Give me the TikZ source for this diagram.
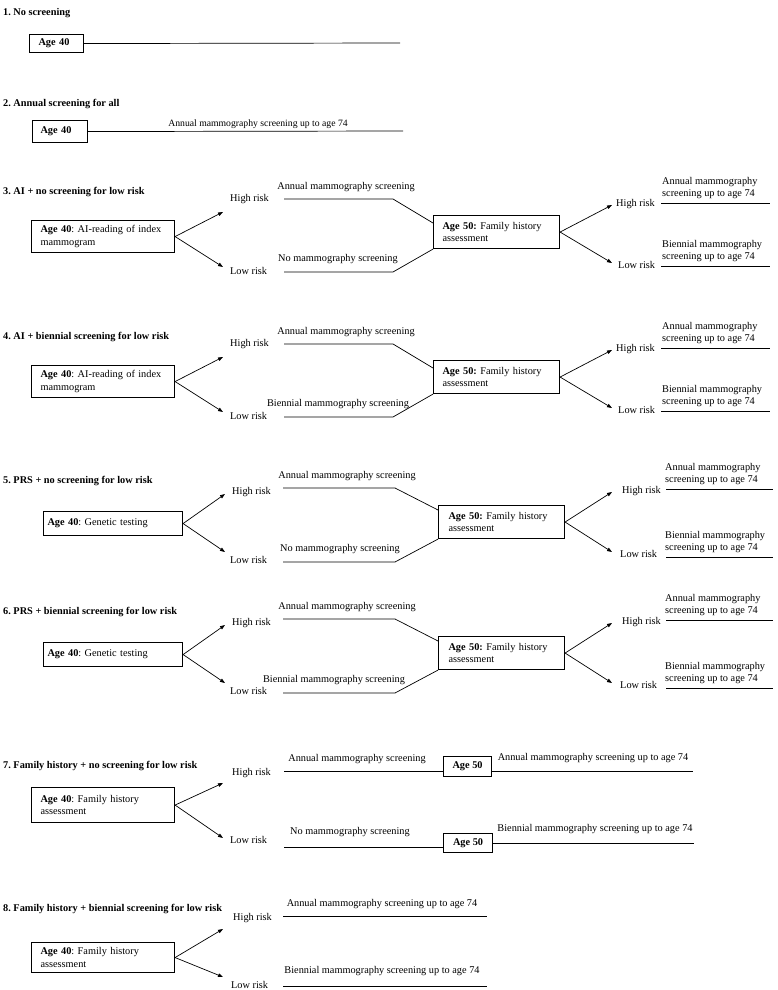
\documentclass[tikz,border=0pt]{standalone}
\usepackage{fontspec}
\setmainfont{Liberation Serif}
\usetikzlibrary{arrows.meta,calc}
\frenchspacing
\tikzset{
  every node/.style={font=\fontsize{10.3}{12.4}\selectfont\frenchspacing, inner sep=0pt},
  ttl/.style={anchor=base west, font=\fontsize{10.3}{12.4}\selectfont\bfseries},
  lbl/.style={anchor=base west},
  clbl/.style={anchor=base},
  twol/.style={anchor=south west, align=left},
  boxn/.style={draw, line width=1.1pt, anchor=north west, align=left, inner ysep=0pt},
  ln/.style={line width=0.7pt},
  arr/.style={line width=0.7pt, -{Triangle[length=5pt,width=3.6pt]}},
}
% sections 3 and 4
\newcommand{\aiblock}[4]{%
\begin{scope}[shift={(0,#1)}]
\node[ttl] (#2t) at (3,194.5) {#3};
\node[boxn, minimum width=143pt, minimum height=32pt, text width=125pt, inner xsep=9pt] (#2a) at (31,220) {\textbf{Age 40}: AI-reading of index\\mammogram};
\coordinate (#2ht) at (223,212);
\coordinate (#2lt) at (223,267);
\draw[arr] (#2a.east) -- (#2ht);
\draw[arr] (#2a.east) -- (#2lt);
\node[lbl] (#2hr) at (230,201.5) {High risk};
\node[lbl] (#2lr) at (230,274.5) {Low risk};
\node[boxn, minimum width=126pt, minimum height=33pt, text width=108pt, inner xsep=9pt] (#2b) at (433,215) {\textbf{Age 50:} Family history\\assessment};
\coordinate (#2h1) at (284,199);
\coordinate (#2h2) at (393,199);
\coordinate (#2l1) at (284,272);
\coordinate (#2l2) at (393,272);
\draw[ln] (#2h1) -- (#2h2) -- ([yshift=-8pt]#2b.north west);
\draw[ln] (#2l1) -- (#2l2) -- (#2b.south west);
\node[clbl] (#2hl) at (346,189.5) {Annual mammography screening};
\node[clbl] (#2ll) at (338,261.5) {#4};
\coordinate (#2rht) at (612,205);
\coordinate (#2rlt) at (612,263);
\draw[arr] (#2b.east) -- (#2rht);
\draw[arr] (#2b.east) -- (#2rlt);
\node[lbl] (#2rhr) at (616,206.5) {High risk};
\node[lbl] (#2rlr) at (618,268.5) {Low risk};
\coordinate (#2rh1) at (661,203);
\coordinate (#2rh2) at (770,203);
\coordinate (#2rl1) at (661,266);
\coordinate (#2rl2) at (770,266);
\draw[ln] (#2rh1) -- (#2rh2);
\draw[ln] (#2rl1) -- (#2rl2);
\node[twol] (#2rhl) at (662,199) {Annual mammography\\screening up to age 74};
\node[twol] (#2rll) at (662,262) {Biennial mammography\\screening up to age 74};
\end{scope}}
% sections 5 and 6
\newcommand{\prsblock}[5]{%
\begin{scope}[shift={(0,#1)}]
\node[ttl] (#2t) at (3,483.5) {#3};
\node[boxn, minimum width=139pt, minimum height=24pt, text width=131pt, inner xsep=4pt] (#2a) at (43,511) {\textbf{Age 40}: Genetic testing};
\coordinate (#2ht) at (225,494);
\coordinate (#2lt) at (225,552);
\draw[arr] (#2a.east) -- (#2ht);
\draw[arr] (#2a.east) -- (#2lt);
\node[lbl] (#2hr) at (232,494.5) {High risk};
\node[lbl] (#2lr) at (230,563.5) {Low risk};
\node[boxn, minimum width=126pt, minimum height=33pt, text width=106pt, inner xsep=10pt] (#2b) at (438,505) {\textbf{Age 50:} Family history\\assessment};
\coordinate (#2h1) at (283,488);
\coordinate (#2h2) at (395,488);
\coordinate (#2l1) at (283,562);
\coordinate (#2l2) at (395,562);
\draw[ln] (#2h1) -- (#2h2) -- ([yshift=-5pt]#2b.north west);
\draw[ln] (#2l1) -- (#2l2) -- (#2b.south west);
\node[clbl] (#2hl) at (347,478.5) {Annual mammography screening};
\node[clbl] (#2ll) at (#5,551) {#4};
\coordinate (#2rht) at (612,492);
\coordinate (#2rlt) at (612,552);
\draw[arr] (#2b.east) -- (#2rht);
\draw[arr] (#2b.east) -- (#2rlt);
\node[lbl] (#2rhr) at (622,493.5) {High risk};
\node[lbl] (#2rlr) at (620,557.5) {Low risk};
\coordinate (#2rh1) at (666,489);
\coordinate (#2rh2) at (773,489);
\coordinate (#2rl1) at (666,557);
\coordinate (#2rl2) at (773,557);
\draw[ln] (#2rh1) -- (#2rh2);
\draw[ln] (#2rl1) -- (#2rl2);
\node[twol] (#2rhl) at (665,485) {Annual mammography\\screening up to age 74};
\node[twol] (#2rll) at (665,553) {Biennial mammography\\screening up to age 74};
\end{scope}}
\begin{document}
\begin{tikzpicture}[x=1pt,y=-1pt]
\useasboundingbox (0,0) rectangle (777,990);
\fill[white] (0,0) rectangle (777,990);

% 1
\node[ttl] (t1) at (3,15.5) {1. No screening};
\node[boxn, minimum width=54pt, minimum height=18pt, text width=36pt, inner xsep=9pt] (b1) at (29,34) {\textbf{Age 40}};
\coordinate (e1) at (400,43);
\draw[ln] (b1.east) -- (e1);

% 2
\node[ttl] (t2) at (3,106.5) {2. Annual screening for all};
\node[boxn, minimum width=55pt, minimum height=22pt, text width=39pt, inner xsep=8pt] (b2) at (32,120) {\textbf{Age 40}};
\coordinate (e2) at (403,131);
\draw[ln] (b2.east) -- (e2);
\node[clbl, font=\fontsize{9.7}{11.6}\selectfont] (l2) at (258,126) {Annual mammography screening up to age 74};

% 3, 4
\aiblock{0}{s3}{3. AI + no screening for low risk}{No mammography screening}
\aiblock{145}{s4}{4. AI + biennial screening for low risk}{Biennial mammography screening}

% 5, 6
\prsblock{0}{s5}{5. PRS + no screening for low risk}{No mammography screening}{340}
\prsblock{131}{s6}{6. PRS + biennial screening for low risk}{Biennial mammography screening}{334}

% 7
\node[ttl] (t7) at (3,768.5) {7. Family history + no screening for low risk};
\node[boxn, minimum width=143pt, minimum height=35pt, text width=125pt, inner xsep=9pt] (b7) at (31,787) {\textbf{Age 40}: Family history\\assessment};
\coordinate (s7ht) at (223,783);
\coordinate (s7lt) at (223,838);
\draw[arr] (b7.east) -- (s7ht);
\draw[arr] (b7.east) -- (s7lt);
\node[lbl] (s7hr) at (232,775.5) {High risk};
\node[lbl] (s7lr) at (230,843.5) {Low risk};
\node[boxn, minimum width=48pt, minimum height=20pt, align=center] (a7h) at (443,756) {\textbf{Age 50}};
\node[boxn, minimum width=49pt, minimum height=19pt, align=center] (a7l) at (443,833) {\textbf{Age 50}};
\coordinate (p7h1) at (284,771);
\coordinate (p7h2) at (693,771);
\coordinate (p7l1) at (284,847);
\coordinate (p7l2) at (694,843);
\draw[ln] (p7h1) -- (p7h1 -| a7h.west);
\draw[ln] (a7h.east |- p7h2) -- (p7h2);
\draw[ln] (p7l1) -- (p7l1 -| a7l.west);
\draw[ln] (a7l.east |- p7l2) -- (p7l2);
\node[clbl] (s7hl) at (357,761.5) {Annual mammography screening};
\node[clbl] (s7hl2) at (593,760.5) {Annual mammography screening up to age 74};
\node[clbl] (s7ll) at (350,834.5) {No mammography screening};
\node[clbl] (s7ll2) at (595,831.5) {Biennial mammography screening up to age 74};

% 8
\node[ttl] (t8) at (3,911.5) {8. Family history + biennial screening for low risk};
\node[boxn, minimum width=143pt, minimum height=30pt, text width=125pt, inner xsep=9pt] (b8) at (31,942) {\textbf{Age 40}: Family history\\assessment};
\coordinate (s8ht) at (223,929);
\coordinate (s8lt) at (223,977);
\draw[arr] (b8.east) -- (s8ht);
\draw[arr] (b8.east) -- (s8lt);
\node[lbl] (s8hr) at (233,920.5) {High risk};
\node[lbl] (s8lr) at (231,988.5) {Low risk};
\coordinate (p8h1) at (283,916);
\coordinate (p8h2) at (487,916);
\coordinate (p8l1) at (283,986);
\coordinate (p8l2) at (487,986);
\draw[ln] (p8h1) -- (p8h2);
\draw[ln] (p8l1) -- (p8l2);
\node[clbl] (s8hl) at (382,906.5) {Annual mammography screening up to age 74};
\node[clbl] (s8ll) at (382,973.5) {Biennial mammography screening up to age 74};
\end{tikzpicture}
\end{document}
